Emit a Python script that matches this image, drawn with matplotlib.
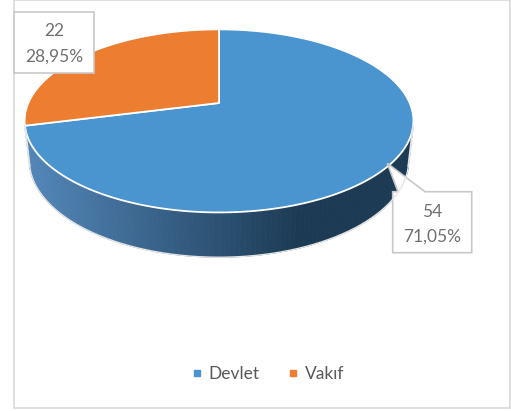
import numpy as np
import matplotlib
matplotlib.use("Agg")
import matplotlib.pyplot as plt
from matplotlib.patches import Polygon, Rectangle
from matplotlib.lines import Line2D

plt.rcParams['font.family'] = ['Lato', 'DejaVu Sans']

# veri
labels = ['Devlet', 'Vakıf']
values = [54, 22]
top_colors = ['#4a94cf', '#ed7d31']
side_dark = [np.array([28, 58, 84]) / 255, np.array([150, 75, 25]) / 255]
side_light = [np.array([82, 134, 184]) / 255, np.array([200, 100, 40]) / 255]
pct_text = ['71,05%', '28,95%']

# perspektif parametreleri (piksel)
cx, cy = 219, 103
phi = np.radians(27.5)
D = 4.537
f = 865
h = 0.235
S, C = np.sin(phi), np.cos(phi)


def proj(X, Y, Z):
    v = Y * S + Z * C
    d = D + Y * C - Z * S
    return cx + f * X / d, cy - f * v / d


fig = plt.figure(figsize=(5.11, 4.11), dpi=100)
ax = fig.add_axes([0, 0, 1, 1])
ax.set_xlim(0, 511)
ax.set_ylim(411, 0)
ax.axis('off')

# çerçeve
ax.add_patch(Rectangle((14, 0.5), 496, 407.5, fill=False, ec='#d9d9d9', lw=1.2))

total = float(sum(values))
# saat yönünde, 12'den başla
starts = []
a = 90.0
for v in values:
    span = 360.0 * v / total
    starts.append((a, a - span))
    a -= span

# görünen yan yüzey sınırı
ylim_vis = -1.0 / (D * C)

# yan yüzeyler
quads = []
for i, (a0, a1) in enumerate(starts):
    th = np.radians(np.linspace(a0, a1, 200))
    for k in range(len(th) - 1):
        t0, t1 = th[k], th[k + 1]
        X0, Y0 = np.cos(t0), np.sin(t0)
        X1, Y1 = np.cos(t1), np.sin(t1)
        if (Y0 + Y1) / 2 > ylim_vis:
            continue
        p = [proj(X0, Y0, 0), proj(X1, Y1, 0), proj(X1, Y1, -h), proj(X0, Y0, -h)]
        xm = (p[0][0] + p[1][0]) / 2
        tt = np.clip((xm - 30) / 270.0, 0, 1)
        col = side_light[i] * (1 - tt) + side_dark[i] * tt
        quads.append(((Y0 + Y1) / 2, p, col))
quads.sort(key=lambda q: -q[0])
for _, p, col in quads:
    ax.add_patch(Polygon(p, closed=True, fc=col, ec=col, lw=0.6))

# yan yüzey dış çizgisi
t_s = np.arcsin(ylim_vis)
th = np.linspace(np.pi - t_s, 2 * np.pi + t_s, 200)
bx, by = proj(np.cos(th), np.sin(th), -h)
ax.plot(bx, by, color='#e6e6e6', lw=1.0)
for t in (np.pi - t_s, 2 * np.pi + t_s):
    ex, ey = proj(np.array([np.cos(t)] * 2), np.array([np.sin(t)] * 2),
                  np.array([0.0, -h]))
    ax.plot(ex, ey, color='#e6e6e6', lw=1.4, solid_capstyle='round')

# üst yüzey dilimleri
for i, (a0, a1) in enumerate(starts):
    th = np.radians(np.linspace(a0, a1, 300))
    xs, ys = proj(np.cos(th), np.sin(th), 0 * th)
    px, py = proj(0, 0, 0)
    pts = [(px, py)] + list(zip(xs, ys))
    ax.add_patch(Polygon(pts, closed=True, fc=top_colors[i], ec='white', lw=1.3,
                         joinstyle='round'))

# etiket kutuları
box_ec = '#c8c8c8'
txt_col = '#707070'
ax.add_patch(Polygon([(14, 12.3), (94.3, 12.3), (94.3, 72.7), (14, 72.7)],
                     closed=True, fc='white', ec=box_ec, lw=1.2))
ax.text(54, 31, str(values[1]), ha='center', va='center', fontsize=12.5, color=txt_col)
ax.text(54, 57, pct_text[1], ha='center', va='center', fontsize=12.5, color=txt_col)

ax.add_patch(Polygon([(392.7, 191.7), (398, 191.7), (387.3, 163.3), (425, 191.7),
                      (471.7, 191.7), (471.7, 252.7), (392.7, 252.7)],
                     closed=True, fc='white', ec=box_ec, lw=1.2))
ax.text(432, 211.7, str(values[0]), ha='center', va='center', fontsize=12.5, color=txt_col)
ax.text(432, 236.7, pct_text[0], ha='center', va='center', fontsize=12.5, color=txt_col)

# lejant
handles = [Line2D([], [], marker='s', ls='', color=top_colors[i], markersize=5)
           for i in range(2)]
ax.legend(handles, labels, loc='center', bbox_to_anchor=(268 / 511, 1 - 374 / 411),
          ncol=2, frameon=False, fontsize=12.5, labelcolor='#595959',
          handlelength=0.6, handletextpad=0.4, columnspacing=1.6)

fig.savefig('out.png', dpi=100)
